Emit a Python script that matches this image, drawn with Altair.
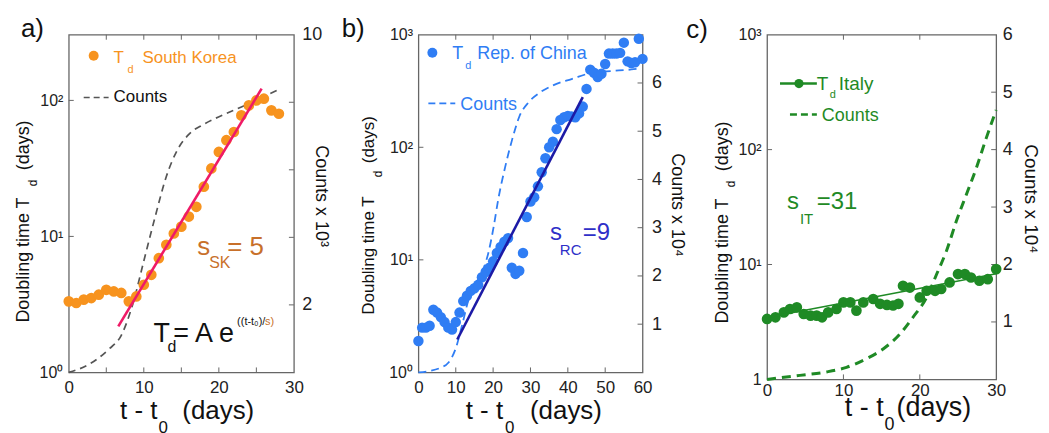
import altair as alt
import pandas as pd

# ---------------- data ----------------
# Panel a: South Korea
A_T = list(range(29))
A_TD = [3.33, 3.24, 3.43, 3.52, 3.73, 4.05, 3.94, 3.84, 3.33, 3.62, 4.41, 5.22, 6.92,
        8.67, 10.5, 11.8, 14.0, 16.5, 23.2, 31.6, 41.8, 51.0, 58.6, 77.6, 91.9, 100.0,
        103.0, 84.5, 79.8]
A_FIT_T = [6.6, 25.7]
A_FIT_TD = [2.18, 122.0]
A_CNT_T = [0, 2.7, 5.3, 7, 8.5, 10, 11.5, 13, 14.5, 16, 18, 20.5, 23, 25.5, 28.2]
A_CNT = [0, 0.24, 0.68, 1.1, 2.0, 3.3, 4.6, 5.8, 6.6, 7.05, 7.35, 7.62, 7.86, 8.12, 8.4]

# Panel b: Rep. of China
B_T = list(range(61))
B_TD = [1.9, 2.5, 2.5, 2.6, 3.6, 3.4, 3.1, 2.8, 2.5, 2.4,
        2.8, 3.4, 4.3, 4.8, 5.3, 5.6, 6.0, 7.0, 7.8, 8.5,
        9.7, 11.5, 13.0, 14.5, 15.6, 8.5, 7.5, 8.0, 11.5, 24,
        33, 36, 45, 60, 80, 100, 112, 145, 175, 185,
        190, 188, 185, 200, 230, 330, 490, 460, 420, 450,
        550, 680, 680, 680, 690, 850, 580, 560, 570, 920, 610]
B_FIT_T = [10.4, 44.0]
B_FIT_TD = [1.96, 279.0]
B_CNT_T = [0, 3, 6, 8, 10, 11.6, 13.4, 15, 16.5, 18.8, 20.1, 21.4, 23.2, 25, 27, 29.5,
           32.5, 36, 41, 47, 52, 57, 59]
B_CNT = [0, 0.03, 0.1, 0.2, 0.5, 0.95, 1.5, 1.8, 2.0, 2.5, 3.0, 3.6, 4.25, 4.8, 5.3, 5.6,
         5.8, 5.95, 6.08, 6.22, 6.25, 6.28, 6.3]

# Panel c: Italy
C_T = [0, 1.1, 2.2, 3.0, 3.9, 4.8, 5.7, 6.5, 7.2, 8.0, 9.1, 10.0, 10.9, 11.7, 12.6, 13.9,
       14.8, 15.7, 16.5, 17.2, 17.8, 18.7, 20.0, 20.9, 22.0, 22.8, 23.9, 25.0, 25.9, 26.7,
       27.8, 28.9, 30.0]
C_TD = [3.36, 3.47, 3.83, 4.1, 4.24, 3.71, 3.59, 3.59, 3.47, 3.83, 4.1, 4.68, 4.68, 3.97,
        4.68, 5.01, 4.55, 4.45, 4.4, 4.55, 6.53, 6.3, 5.17, 5.91, 5.9, 6.12, 6.98, 8.26,
        8.26, 7.71, 7.22, 7.45, 9.12]
C_FIT_T = [0, 30]
C_FIT_TD = [3.45, 8.3]
C_CNT_T = [0, 4.3, 7.8, 10.4, 13, 15.2, 17.4, 19.1, 20.9, 22.2, 23.5, 24.8, 26.1, 27.4, 28.7, 30]
C_CNT = [0, 0.07, 0.13, 0.21, 0.36, 0.53, 0.79, 1.08, 1.43, 1.83, 2.24, 2.76, 3.22, 3.68, 4.2, 4.69]

# ---------------- styling ----------------
FONT = "Liberation Sans"
ORANGE = "#F7931E"
PINK = "#EF1A66"
SK_TXT = "#C8702A"
BLUE = "#2F7DF4"
NAVY = "#1C1AA6"
RC_TXT = "#2F2FC8"
GREEN = "#1F8A25"
GRAY = "#555555"
FRAME = "#666666"

DUMMY = pd.DataFrame({"k": [0]})


def txt(x, y, s, size, color="#111111", angle=0, align="left"):
    return alt.Chart(DUMMY).mark_text(
        text=s, fontSize=size, color=color, angle=angle, align=align,
        baseline="alphabetic", font=FONT
    ).encode(x=alt.value(x), y=alt.value(y))


def hline(x1, x2, y, color, width=1.8, dash=None):
    kw = dict(color=color, strokeWidth=width)
    if dash:
        kw["strokeDash"] = dash
    return alt.Chart(DUMMY).mark_rule(**kw).encode(
        x=alt.value(x1), x2=alt.value(x2), y=alt.value(y))


def dot(x, y, color, size=100):
    return alt.Chart(DUMMY).mark_circle(size=size, color=color, opacity=1).encode(
        x=alt.value(x), y=alt.value(y))


def build_panel(c):
    w, h = c["w"], c["h"]
    xs = alt.Scale(domain=c["xdom"], nice=False, zero=False)
    xax = alt.Axis(values=c["xvals"], title=None, labelFontSize=17, labelPadding=c["xpad"],
                   labelFlush=False, labelOverlap=False, format="d")
    ys = alt.Scale(type="log", domain=c["ydom"], nice=False)
    yax = alt.Axis(values=c["yvals"], labelExpr=c["yexpr"], title=None, labelFontSize=16,
                   labelPadding=6, labelFlush=False, labelOverlap=False, orient="left")
    cs = alt.Scale(domain=c["cdom"], nice=False, zero=False)
    cax = alt.Axis(values=c["cvals"], labelExpr=c["cexpr"], title=None, labelFontSize=18,
                   labelPadding=c["cpad"], labelFlush=False, labelOverlap=False, orient="right")

    td = pd.DataFrame({"t": c["t"], "td": c["td"]})
    fit = pd.DataFrame({"t": c["fit_t"], "td": c["fit_td"]})
    cnt = pd.DataFrame({"t": c["cnt_t"], "n": c["cnt"]})

    X = alt.X("t:Q", scale=xs, axis=xax)

    pts = alt.Chart(td).mark_circle(size=c["psize"], color=c["pcolor"], opacity=1).encode(
        x=X, y=alt.Y("td:Q", scale=ys, axis=yax))
    fitl = alt.Chart(fit).mark_line(color=c["fcolor"], strokeWidth=c["fwidth"]).encode(
        x=X, y=alt.Y("td:Q", scale=ys, axis=yax))

    xt = pd.DataFrame({"v": c["xticks"]})
    bt = alt.Chart(xt).mark_rule(color=FRAME, strokeWidth=1).encode(
        x=alt.X("v:Q", scale=xs, axis=xax), y=alt.value(h), y2=alt.value(h - 5))
    tt = alt.Chart(xt).mark_rule(color=FRAME, strokeWidth=1).encode(
        x=alt.X("v:Q", scale=xs, axis=xax), y=alt.value(0), y2=alt.value(5))
    lt = alt.Chart(pd.DataFrame({"v": c["lticks"]})).mark_rule(color=FRAME, strokeWidth=1).encode(
        y=alt.Y("v:Q", scale=ys, axis=yax), x=alt.value(0), x2=alt.value(5))

    inner = alt.layer(pts, fitl, bt, tt, lt, *c["texts"])

    cntl = alt.Chart(cnt).mark_line(color=c["ccolor"], strokeWidth=c["cwidth"],
                                    strokeDash=c["cdash"], interpolate="monotone").encode(
        x=X, y=alt.Y("n:Q", scale=cs, axis=cax))
    rt = alt.Chart(pd.DataFrame({"v": c["rticks"]})).mark_rule(color=FRAME, strokeWidth=1).encode(
        y=alt.Y("v:Q", scale=cs, axis=cax), x=alt.value(w - 5), x2=alt.value(w))
    outer = alt.layer(cntl, rt)

    return alt.layer(outer, inner).resolve_scale(y="independent").properties(width=w, height=h)


def xtitle(xr, xs0, xd, y, size, subsize):
    return [txt(xr, y, "t  -  t", size, align="right"),
            txt(xs0, y + 14, "0", subsize),
            txt(xd, y, "(days)", size)]


def ytitle(x, y0, xs, ys, yd, size):
    return [txt(x, y0, "Doubling time T", size, angle=270),
            txt(xs, ys, "d", 12, angle=270),
            txt(x, yd, "(days)", size, angle=270)]


LOG3 = "datum.value == 1 ? '10⁰' : datum.value == 10 ? '10¹' : datum.value == 100 ? '10²' : '10³'"
LOG3C = "datum.value == 1 ? '1' : datum.value == 10 ? '10¹' : datum.value == 100 ? '10²' : '10³'"

# ---------------- panel a ----------------
texts_a = [txt(-48, 2, "a)", 26)] + ytitle(-40, 289, -32, 152, 136, 18) + [
    txt(248, 111, "Counts x 10³", 18, angle=90)] + xtitle(89, 90, 114, 386, 26, 17) + [
    dot(25, 21, ORANGE),
    txt(45, 28, "T", 17, ORANGE), txt(59, 38, "d", 11, ORANGE),
    txt(74, 28, "South Korea", 17, ORANGE),
    hline(15, 40, 63, GRAY, 1.6, [6, 4]), txt(45, 68, "Counts", 17, "#111111"),
    txt(129, 221, "s", 26, SK_TXT), txt(141, 234, "SK", 16, SK_TXT),
    txt(159, 221, "= 5", 26, SK_TXT),
    txt(85, 308, "T", 27), txt(99, 318, "d", 16), txt(105, 308, "= A e", 27),
    txt(169, 291, "((t-t₀)/", 11), txt(197, 291, "s)", 11, SK_TXT),
]
pa = build_panel(dict(
    w=226, h=339, xdom=[0, 30], xvals=[0, 10, 20, 30], xpad=7, xticks=[5, 10, 15, 20, 25],
    ydom=[1, 304], yvals=[1, 10, 100], yexpr=LOG3, lticks=[10, 100],
    cdom=[0, 10], cvals=[2, 10], cexpr="datum.value == 2 ? '2' : datum.value == 10 ? '10' : ''",
    cpad=8, rticks=[2, 4, 6, 8],
    t=A_T, td=A_TD, fit_t=A_FIT_T, fit_td=A_FIT_TD, cnt_t=A_CNT_T, cnt=A_CNT,
    psize=115, pcolor=ORANGE, fcolor=PINK, fwidth=2.6,
    ccolor=GRAY, cwidth=1.7, cdash=[7, 5], texts=texts_a))

# ---------------- panel b ----------------
texts_b = [txt(-77, 2, "b)", 26)] + ytitle(-45, 281, -37, 143, 129, 17) + [
    txt(255, 119, "Counts x 10⁴", 18, angle=90)] + xtitle(85, 87, 112, 386, 26, 17) + [
    dot(14, 18, BLUE),
    txt(34, 24, "T", 18, BLUE), txt(47, 34, "d", 11, BLUE),
    txt(59, 24, "Rep. of China", 18, BLUE),
    hline(10, 37, 69, BLUE, 1.8, [7, 4]), txt(42, 76, "Counts", 18, BLUE),
    txt(132, 206, "s", 24, RC_TXT), txt(142, 221, "RC", 15, RC_TXT),
    txt(165, 206, "=9", 24, RC_TXT),
]
pb = build_panel(dict(
    w=225, h=339, xdom=[0, 60], xvals=[0, 10, 20, 30, 40, 50, 60], xpad=7,
    xticks=[10, 20, 30, 40, 50],
    ydom=[1, 1000], yvals=[1, 10, 100, 1000], yexpr=LOG3, lticks=[10, 100],
    cdom=[0, 7], cvals=[1, 2, 3, 4, 5, 6], cexpr="datum.label", cpad=9,
    rticks=[1, 2, 3, 4, 5, 6],
    t=B_T, td=B_TD, fit_t=B_FIT_T, fit_td=B_FIT_TD, cnt_t=B_CNT_T, cnt=B_CNT,
    psize=110, pcolor=BLUE, fcolor=NAVY, fwidth=2.6,
    ccolor=BLUE, cwidth=1.8, cdash=[8, 5], texts=texts_b))

# ---------------- panel c ----------------
texts_c = [txt(-81, 3, "c)", 26)] + ytitle(-39, 290, -32, 153, 137, 18) + [
    txt(259, 110, "Counts x 10⁴", 19, angle=90)] + xtitle(117, 118, 130, 383, 27, 18) + [
    hline(13, 50, 49, GREEN, 2.5), dot(32, 49, GREEN, 85),
    txt(50, 55, "T", 19, GREEN), txt(63, 64, "d", 11, GREEN),
    txt(72, 55, "Italy", 19, GREEN),
    hline(23, 50, 80, GREEN, 2.5, [7, 4]), txt(55, 87, "Counts", 18, GREEN),
    txt(20, 175, "s", 24, GREEN), txt(33, 190, "IT", 15, GREEN),
    txt(50, 175, "=31", 24, GREEN),
]
pc = build_panel(dict(
    w=230, h=346, xdom=[0, 30], xvals=[0, 10, 20, 30], xpad=3, xticks=[10, 20],
    ydom=[1, 1000], yvals=[1, 10, 100, 1000], yexpr=LOG3C, lticks=[10, 100],
    cdom=[0, 6], cvals=[1, 2, 3, 4, 5, 6], cexpr="datum.label", cpad=6,
    rticks=[1, 2, 3, 4, 5],
    t=C_T, td=C_TD, fit_t=C_FIT_T, fit_td=C_FIT_TD, cnt_t=C_CNT_T, cnt=C_CNT,
    psize=115, pcolor=GREEN, fcolor=GREEN, fwidth=1.5,
    ccolor=GREEN, cwidth=3, cdash=[9, 6], texts=texts_c))

chart = alt.hconcat(pa, pb, pc, spacing=125, bounds="flush").properties(
    padding={"left": 6, "top": 6, "right": 0, "bottom": 0}
).configure_view(
    stroke=FRAME, strokeWidth=1.3
).configure_axis(
    grid=False, ticks=False, domain=False, labelFont=FONT, labelColor="#222222"
)

chart.save("out.html", embed_options={"renderer": "svg", "actions": False})
